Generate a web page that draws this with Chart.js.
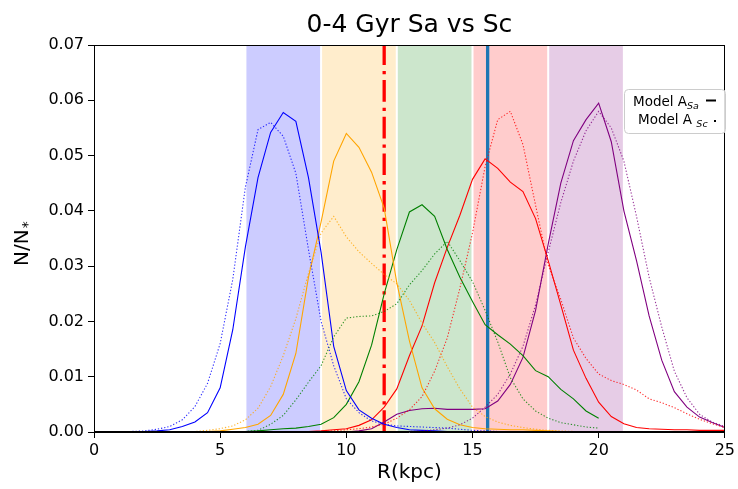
<!DOCTYPE html>
<html>
<head>
<meta charset="utf-8">
<script src="https://cdn.jsdelivr.net/npm/chart.js@4.4.1/dist/chart.umd.min.js"></script>
<style>
  body { margin: 0; background: #fff; }
  #wrap { width: 738px; height: 489px; }
</style>
</head>
<body>
<div id="wrap"><canvas id="radial-chart"></canvas></div>
<script>
// radial bins (kpc)
const radius = [0, 0.5, 1, 1.5, 2, 2.5, 3, 3.5, 4, 4.5, 5, 5.5, 6, 6.5, 7, 7.5, 8, 8.5, 9, 9.5,
    10, 10.5, 11, 11.5, 12, 12.5, 13, 13.5, 14, 14.5, 15, 15.5, 16, 16.5, 17, 17.5, 18, 18.5, 19, 19.5,
    20, 20.5, 21, 21.5, 22, 22.5, 23, 23.5, 24, 24.5, 25];

// Model A Sa (solid)
const blueSa = [0, 0, 0, 0, 0.0001, 0.0002, 0.0004, 0.001, 0.0018, 0.0035, 0.008, 0.0185, 0.0335, 0.046, 0.0542, 0.0578, 0.0562, 0.046, 0.0325, 0.0155,
    0.0075, 0.004, 0.0025, 0.0014, 0.0008, 0.0004, 0.0003, 0.0002, 0.0001, 0.0001, 0.0001, 0, 0, 0, 0, 0, 0, 0, 0, 0,
    0, 0, 0, 0, 0, 0, 0, 0, 0, 0, 0];
const orangeSa = [0, 0, 0, 0, 0, 0, 0, 0, 0, 0.0001, 0.0002, 0.0005, 0.0008, 0.0014, 0.003, 0.0068, 0.0142, 0.028, 0.038, 0.049,
    0.054, 0.0515, 0.047, 0.0405, 0.027, 0.0165, 0.008, 0.0042, 0.0023, 0.0013, 0.0008, 0.0006, 0.0005, 0.0004, 0.0004, 0.0003, 0.0002, 0.0001, 0, 0,
    0, 0, 0, 0, 0, 0, 0, 0, 0, 0, 0];
const greenSa = [0, 0, 0, 0, 0, 0, 0, 0, 0, 0, 0, 0, 0.0001, 0.0002, 0.0004, 0.0006, 0.0007, 0.001, 0.0014, 0.0026,
    0.005, 0.0091, 0.0157, 0.025, 0.033, 0.0398, 0.0411, 0.039, 0.033, 0.028, 0.0236, 0.0194, 0.0176, 0.0159, 0.0138, 0.0111, 0.01, 0.0077, 0.006, 0.0038,
    0.0025, null, null, null, null, null, null, null, null, null, null];
const redSa = [0, 0, 0, 0, 0, 0, 0, 0, 0, 0, 0, 0, 0, 0, 0, 0, 0, 0.0001, 0.0002, 0.0004,
    0.0006, 0.0012, 0.0022, 0.0045, 0.0078, 0.0138, 0.0192, 0.027, 0.0334, 0.0392, 0.0457, 0.0494, 0.0477, 0.0452, 0.0435, 0.0386, 0.031, 0.023, 0.0148, 0.0097,
    0.0054, 0.0028, 0.0015, 0.0008, 0.0006, 0.0005, 0.0004, 0.0004, 0.0003, 0.0003, 0.0003];
const purpleSa = [0, 0, 0, 0, 0, 0, 0, 0, 0, 0, 0, 0, 0, 0, 0, 0, 0, 0, 0, 0,
    0, 0.0002, 0.0006, 0.0018, 0.0032, 0.0039, 0.0042, 0.0043, 0.0041, 0.0041, 0.0041, 0.0042, 0.0056, 0.0086, 0.0135, 0.022, 0.034, 0.045, 0.0527, 0.0565,
    0.0595, 0.0525, 0.040, 0.031, 0.021, 0.013, 0.0073, 0.0045, 0.0027, 0.0017, 0.0008];

// Model A Sc (dotted)
const blueSc = [0, 0, 0, 0.0001, 0.0002, 0.0005, 0.001, 0.0022, 0.0046, 0.0088, 0.016, 0.0276, 0.0443, 0.0547, 0.056, 0.0535, 0.0468, 0.033, 0.020, 0.012,
    0.006, 0.0035, 0.002, 0.0014, 0.0011, 0.001, 0.0009, 0.0008, 0.0007, 0.0005, 0.0003, 0.0002, 0.0001, 0, 0, 0, 0, 0, 0, 0,
    0, 0, 0, 0, 0, 0, 0, 0, 0, 0, 0];
const orangeSc = [0, 0, 0, 0, 0, 0, 0, 0, 0.0001, 0.0003, 0.0006, 0.0011, 0.0022, 0.0043, 0.0082, 0.0138, 0.0205, 0.0287, 0.036, 0.039,
    0.0353, 0.0326, 0.0305, 0.0285, 0.0268, 0.0238, 0.0197, 0.0162, 0.0118, 0.0078, 0.0045, 0.0028, 0.0018, 0.0012, 0.0008, 0.0005, 0.0003, 0.0002, 0.0001, 0,
    0, 0, 0, 0, 0, 0, 0, 0, 0, 0, 0];
const greenSc = [0, 0, 0, 0, 0, 0, 0, 0, 0, 0, 0, 0, 0.0001, 0.0003, 0.0014, 0.003, 0.0058, 0.009, 0.012, 0.0172,
    0.0206, 0.0209, 0.021, 0.0218, 0.0232, 0.0266, 0.0292, 0.0322, 0.0345, 0.031, 0.0272, 0.022, 0.0163, 0.0098, 0.006, 0.0038, 0.0025, 0.0017, 0.0013, 0.0009,
    0.0007, null, null, null, null, null, null, null, null, null, null];
const redSc = [0, 0, 0, 0, 0, 0, 0, 0, 0, 0, 0, 0, 0, 0, 0, 0, 0, 0, 0.0001, 0.0002,
    0.0004, 0.0006, 0.0009, 0.0014, 0.0025, 0.004, 0.0064, 0.011, 0.017, 0.026, 0.036, 0.048, 0.0565, 0.058, 0.052, 0.041, 0.0302, 0.024, 0.017, 0.0133,
    0.0105, 0.0093, 0.0086, 0.0076, 0.006, 0.0053, 0.0044, 0.0033, 0.0023, 0.0015, 0.0008];
const purpleSc = [0, 0, 0, 0, 0, 0, 0, 0, 0, 0, 0, 0, 0, 0, 0, 0, 0, 0, 0, 0,
    0, 0, 0, 0, 0, 0.0001, 0.0002, 0.0004, 0.0007, 0.0013, 0.0025, 0.0045, 0.0068, 0.0105, 0.0155, 0.023, 0.0325, 0.0415, 0.049, 0.0545,
    0.058, 0.055, 0.049, 0.039, 0.028, 0.019, 0.011, 0.0062, 0.0032, 0.0018, 0.001];

// shaded radial ranges and the two reference radii
const bandEdges = [6, 9, 12, 15, 18, 21];
const bandColors = ['rgba(0,0,255,0.2)', 'rgba(255,165,0,0.2)', 'rgba(0,128,0,0.2)', 'rgba(255,0,0,0.2)', 'rgba(128,0,128,0.2)'];
const markerRadii = [11.5, 15.6];

const yTicks = [0, 0.01, 0.02, 0.03, 0.04, 0.05, 0.06, 0.07];
const chartTitle = '0-4 Gyr Sa vs Sc';

function toPoints(values) {
    return radius.map((r, i) => ({ x: r, y: values[i] }));
}

function solid(values, color) {
    return { data: toPoints(values), borderColor: color, borderWidth: 1.1, pointRadius: 0, tension: 0, fill: false };
}

function dotted(values, color) {
    return { data: toPoints(values), borderColor: color, borderWidth: 1.1, borderDash: [1.3, 1.9], pointRadius: 0, tension: 0, fill: false };
}

function vline(r, color, dash) {
    return { data: [{ x: r, y: 0 }, { x: r, y: 0.07 }], borderColor: color, borderWidth: 3.3, borderDash: dash, borderCapStyle: 'butt', pointRadius: 0, fill: false };
}

// Shaded bands behind the curves
const bandPlugin = {
    id: 'bands',
    beforeDatasetsDraw(chart) {
        const { ctx, chartArea, scales } = chart;
        ctx.save();
        for (let i = 0; i < bandColors.length; i++) {
            const x0 = scales.x.getPixelForValue(bandEdges[i]);
            const x1 = scales.x.getPixelForValue(bandEdges[i + 1]);
            ctx.fillStyle = bandColors[i];
            ctx.fillRect(x0, chartArea.top, x1 - x0, chartArea.bottom - chartArea.top);
        }
        ctx.strokeStyle = '#fff';
        ctx.lineWidth = 2;
        bandEdges.forEach(function (r) {
            const x = scales.x.getPixelForValue(r);
            ctx.beginPath();
            ctx.moveTo(x, chartArea.top);
            ctx.lineTo(x, chartArea.bottom);
            ctx.stroke();
        });
        ctx.restore();
    }
};

// Box frame, title over the plot area, y label with subscript and the model legend
const framePlugin = {
    id: 'frame',
    afterDatasetsDraw(chart) {
        const { ctx, chartArea } = chart;
        ctx.save();
        ctx.strokeStyle = '#000';
        ctx.lineWidth = 1;
        ctx.strokeRect(Math.round(chartArea.left) + 0.5, Math.round(chartArea.top) + 0.5,
            Math.round(chartArea.right - chartArea.left) - 1, Math.round(chartArea.bottom - chartArea.top) - 1);

        ctx.fillStyle = '#000';
        ctx.textAlign = 'center';
        ctx.textBaseline = 'middle';
        ctx.font = "25px 'DejaVu Sans'";
        ctx.fillText(chartTitle, (chartArea.left + chartArea.right) / 2, 25);

        // y axis label N/N*
        ctx.translate(23, 266);
        ctx.rotate(-Math.PI / 2);
        ctx.textAlign = 'left';
        ctx.font = "20px 'DejaVu Sans'";
        ctx.fillText('N/N', 0, 0);
        const w = ctx.measureText('N/N').width;
        ctx.font = "14px 'DejaVu Sans'";
        ctx.fillText('*', w + 1, 5);
        ctx.setTransform(1, 0, 0, 1, 0, 0);

        // legend
        const bx = 624, by = 89, bw = 101, bh = 44;
        ctx.fillStyle = 'rgba(255,255,255,0.85)';
        ctx.strokeStyle = '#cccccc';
        ctx.lineWidth = 1;
        ctx.beginPath();
        ctx.roundRect(bx + 0.5, by + 0.5, bw, bh, 4);
        ctx.fill();
        ctx.stroke();

        ctx.fillStyle = '#000';
        ctx.textBaseline = 'alphabetic';
        ctx.font = "13.5px 'DejaVu Sans'";
        ctx.fillText('Model A', 633, 106);
        let tw = ctx.measureText('Model A').width;
        ctx.font = "italic 9.5px 'DejaVu Sans'";
        ctx.fillText('Sa', 633 + tw, 109);

        ctx.font = "13.5px 'DejaVu Sans'";
        ctx.fillText('Model A', 638, 124);
        tw = ctx.measureText('Model A ').width;
        ctx.font = "italic 9.5px 'DejaVu Sans'";
        ctx.fillText('Sc', 638 + tw, 127);

        ctx.strokeStyle = '#000';
        ctx.lineWidth = 2;
        ctx.beginPath();
        ctx.moveTo(706, 100.5);
        ctx.lineTo(716, 100.5);
        ctx.stroke();
        ctx.fillRect(714, 120, 2, 2);
        ctx.restore();
    }
};

const ctx = document.getElementById('radial-chart').getContext('2d');
Chart.defaults.font.family = "'DejaVu Sans', sans-serif";
Chart.defaults.color = '#000';

new Chart(ctx, {
    type: 'line',
    data: {
        datasets: [
            dotted(blueSc, 'rgba(0,0,255,0.8)'),
            dotted(orangeSc, 'rgba(255,165,0,0.8)'),
            dotted(greenSc, 'rgba(0,128,0,0.8)'),
            dotted(redSc, 'rgba(255,0,0,0.8)'),
            dotted(purpleSc, 'rgba(128,0,128,0.8)'),
            solid(blueSa, '#0000ff'),
            solid(orangeSa, '#ffa500'),
            solid(greenSa, '#008000'),
            solid(redSa, '#ff0000'),
            solid(purpleSa, '#800080'),
            vline(markerRadii[0], '#ff0000', [21.7, 5.7, 3.3, 6]),
            vline(markerRadii[1], '#1f77b4', [])
        ]
    },
    options: {
        responsive: true,
        maintainAspectRatio: false,
        animation: false,
        events: [],
        layout: { padding: { top: 45, right: 11, bottom: 0, left: 0 }, autoPadding: false },
        plugins: {
            legend: { display: false },
            tooltip: { enabled: false },
            title: { display: false }
        },
        scales: {
            x: {
                type: 'linear',
                min: 0,
                max: 25,
                afterFit: function (scale) { scale.height = 57; },
                grid: { drawOnChartArea: false, drawTicks: true, tickLength: 6, color: '#000' },
                border: { display: true, color: '#000', width: 1 },
                ticks: { stepSize: 5, autoSkip: false, maxRotation: 0, padding: 3, font: { size: 16 } },
                title: { display: true, text: 'R(kpc)', font: { size: 20 }, padding: { top: 0, bottom: 4 } }
            },
            y: {
                type: 'linear',
                min: 0,
                max: 0.07,
                afterFit: function (scale) { scale.width = 94; },
                afterBuildTicks: function (scale) { scale.ticks = yTicks.map(v => ({ value: v })); },
                grid: { drawOnChartArea: false, drawTicks: true, tickLength: 6, color: '#000' },
                border: { display: true, color: '#000', width: 1 },
                ticks: { padding: 4, font: { size: 16 }, callback: v => v.toFixed(2) }
            }
        }
    },
    plugins: [bandPlugin, framePlugin]
});
</script>
</body>
</html>
